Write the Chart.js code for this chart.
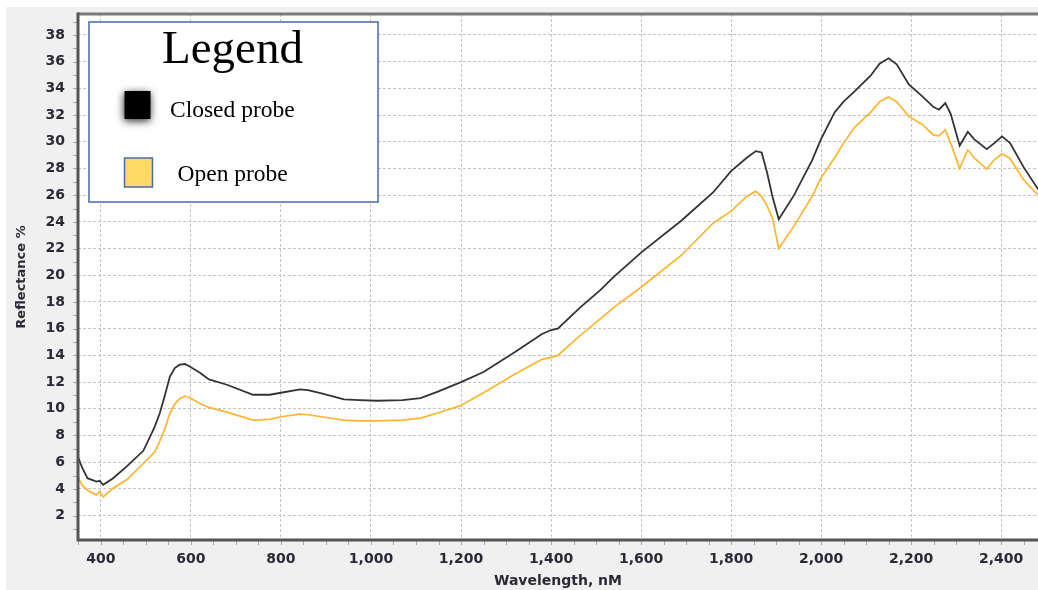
<!DOCTYPE html>
<html>
<head>
<meta charset="utf-8">
<script src="https://cdn.jsdelivr.net/npm/chart.js@4/dist/chart.umd.min.js"></script>
<style>
  html, body { margin: 0; padding: 0; background: #ffffff; }
  canvas { display: block; }
</style>
</head>
<body>
<canvas id="chart" width="1038" height="590"></canvas>
<script>
// Reflectance spectra of the two probe configurations
const wavelengths = [
  350, 358, 370, 390, 397, 405, 427, 458, 494, 509, 520, 531, 542, 553, 564, 575, 587, 598, 620, 640, 680,
  738, 775, 800, 842, 860, 890, 940, 975, 1013, 1070, 1110, 1150, 1200, 1250, 1320, 1380,
  1400, 1415, 1465, 1510, 1540, 1600, 1690, 1760, 1800, 1835, 1855, 1868, 1880, 1892, 1906,
  1940, 1980, 2000, 2030, 2050, 2075, 2110, 2130, 2150, 2168, 2195, 2225, 2250, 2262, 2276,
  2288, 2308, 2326, 2340, 2368, 2385, 2402, 2420, 2450, 2485
];
const closedProbe = [
  6.3, 5.6, 4.8, 4.55, 4.6, 4.3, 4.8, 5.7, 6.85, 7.9, 8.7, 9.7, 11.0, 12.4, 13.05, 13.3, 13.35, 13.15, 12.7, 12.2, 11.8,
  11.05, 11.05, 11.2, 11.45, 11.4, 11.15, 10.7, 10.65, 10.6, 10.65, 10.8, 11.3, 12.0, 12.75, 14.25, 15.6,
  15.9, 16.0, 17.6, 18.9, 19.9, 21.7, 24.1, 26.2, 27.8, 28.8, 29.3, 29.2, 27.7, 25.9, 24.2,
  26.0, 28.6, 30.2, 32.2, 33.0, 33.8, 34.95, 35.85, 36.25, 35.8, 34.3, 33.4, 32.6, 32.4, 32.9,
  32.1, 29.7, 30.75, 30.2, 29.45, 29.9, 30.4, 29.9, 28.1, 26.3
];
const openProbe = [
  4.8, 4.3, 3.9, 3.55, 3.8, 3.4, 4.05, 4.7, 5.9, 6.4, 6.8, 7.6, 8.5, 9.65, 10.35, 10.75, 10.95, 10.8, 10.4, 10.1, 9.75,
  9.15, 9.2, 9.4, 9.6, 9.55, 9.4, 9.15, 9.1, 9.1, 9.15, 9.3, 9.7, 10.25, 11.2, 12.6, 13.7,
  13.85, 14.0, 15.5, 16.75, 17.6, 19.1, 21.5, 23.9, 24.8, 25.9, 26.3, 25.9, 25.2, 24.3, 22.0,
  23.7, 25.9, 27.3, 28.8, 29.9, 31.1, 32.2, 33.0, 33.35, 33.0, 31.9, 31.3, 30.5, 30.45, 30.9,
  29.9, 28.0, 29.4, 28.8, 27.95, 28.65, 29.1, 28.75, 27.15, 25.9
];

const wavelengthTicks = [400, 600, 800, 1000, 1200, 1400, 1600, 1800, 2000, 2200, 2400];
const reflectanceTicks = [2, 4, 6, 8, 10, 12, 14, 16, 18, 20, 22, 24, 26, 28, 30, 32, 34, 36, 38];
const seriesNames = ['Closed probe', 'Open probe'];
const seriesColors = ['#333333', '#ffb52e'];
const legendSwatches = ['#000000', '#ffd966'];
const legendHeading = 'Legend';
const xAxisTitle = 'Wavelength, nM';
const yAxisTitle = 'Reflectance %';

const tickFont = { family: '"DejaVu Sans", Verdana, sans-serif', size: 14, weight: 'bold' };
const tickColor = '#2a2a36';

// Panel background: light grey surround, white plotting area
const backdrop = {
  id: 'backdrop',
  beforeDraw(chart) {
    const { ctx, chartArea: a, width, height } = chart;
    ctx.save();
    ctx.fillStyle = '#ffffff';
    ctx.fillRect(0, 0, width, height);
    ctx.fillStyle = '#f0f0f0';
    ctx.fillRect(6, 7, width - 6, height - 7);
    ctx.fillStyle = '#ffffff';
    ctx.fillRect(a.left, a.top, a.right - a.left, a.bottom - a.top);
    ctx.restore();
  }
};

// Axis frame with small tick marks every 50 nm and every 1 %
const frame = {
  id: 'frame',
  afterDatasetsDraw(chart) {
    const { ctx, chartArea: a, scales } = chart;
    const xs = scales.x, ys = scales.y;
    ctx.save();
    ctx.strokeStyle = '#a8a8a8';
    ctx.lineWidth = 1;
    ctx.beginPath();
    for (let w = 350; w <= xs.max; w += 50) {
      if (w < xs.min) continue;
      const px = Math.round(xs.getPixelForValue(w)) + 0.5;
      ctx.moveTo(px, a.bottom + 1);
      ctx.lineTo(px, a.bottom + 5);
    }
    for (let v = 1; v <= ys.max; v += 1) {
      if (v < ys.min) continue;
      const py = Math.round(ys.getPixelForValue(v)) + 0.5;
      ctx.moveTo(a.left - 5, py);
      ctx.lineTo(a.left - 1, py);
    }
    ctx.stroke();

    // top border
    ctx.strokeStyle = '#7a7a7a';
    ctx.lineWidth = 3;
    ctx.beginPath();
    ctx.moveTo(a.left, a.top);
    ctx.lineTo(a.right, a.top);
    ctx.stroke();
    // left and bottom axis lines
    ctx.strokeStyle = '#555555';
    ctx.beginPath();
    ctx.moveTo(a.left, a.top - 1.5);
    ctx.lineTo(a.left, a.bottom);
    ctx.lineTo(a.right, a.bottom);
    ctx.stroke();
    ctx.restore();
  }
};

// Boxed legend in the upper-left corner of the plot
const legendBox = {
  id: 'legendBox',
  afterDraw(chart) {
    const { ctx } = chart;
    const border = '#4a6aa8';
    ctx.save();
    ctx.fillStyle = '#ffffff';
    ctx.fillRect(89, 22, 289, 180);
    ctx.strokeStyle = border;
    ctx.lineWidth = 1.5;
    ctx.strokeRect(89, 22, 289, 180);

    ctx.fillStyle = '#000000';
    ctx.textBaseline = 'alphabetic';
    ctx.textAlign = 'center';
    ctx.font = '47px "Liberation Serif", "Times New Roman", serif';
    ctx.fillText(legendHeading, 232.5, 63);

    // swatch for the first series (soft-edged black square)
    ctx.save();
    ctx.shadowColor = 'rgba(0,0,0,0.85)';
    ctx.shadowBlur = 8;
    ctx.shadowOffsetX = -1;
    ctx.shadowOffsetY = 2;
    ctx.fillStyle = legendSwatches[0];
    ctx.fillRect(124.5, 91, 26, 28);
    ctx.restore();

    // swatch for the second series
    ctx.fillStyle = legendSwatches[1];
    ctx.fillRect(124.5, 158, 28, 29);
    ctx.strokeStyle = border;
    ctx.lineWidth = 1.5;
    ctx.strokeRect(124.5, 158, 28, 29);

    ctx.fillStyle = '#000000';
    ctx.textAlign = 'left';
    ctx.font = '23.5px "Liberation Serif", "Times New Roman", serif';
    ctx.fillText(chart.data.datasets[0].label, 170, 116.5);
    ctx.fillText(chart.data.datasets[1].label, 177.5, 180.5);
    ctx.restore();
  }
};

const toPoints = (values) => wavelengths.map((w, i) => ({ x: w, y: values[i] }));

new Chart(document.getElementById('chart'), {
  type: 'line',
  data: {
    datasets: [
      {
        label: seriesNames[0],
        data: toPoints(closedProbe),
        borderColor: seriesColors[0],
        borderWidth: 1.8,
        pointRadius: 0,
        tension: 0,
        fill: false
      },
      {
        label: seriesNames[1],
        data: toPoints(openProbe),
        borderColor: seriesColors[1],
        borderWidth: 1.7,
        pointRadius: 0,
        tension: 0,
        fill: false
      }
    ]
  },
  options: {
    responsive: false,
    animation: false,
    layout: { padding: { left: 0, top: 14, right: 0, bottom: 0 } },
    plugins: {
      legend: { display: false },
      tooltip: { enabled: false }
    },
    scales: {
      x: {
        type: 'linear',
        min: 349,
        max: 2482,
        afterBuildTicks(scale) {
          scale.ticks = wavelengthTicks.map(v => ({ value: v }));
        },
        afterFit(scale) {
          scale.height = 50;
          scale.paddingLeft = 0;
          scale.paddingRight = 0;
        },
        ticks: {
          font: tickFont,
          color: tickColor,
          padding: 11,
          maxRotation: 0,
          autoSkip: false,
          callback: (v) => v.toLocaleString('en-US')
        },
        grid: {
          color: '#c4c4c4',
          lineWidth: 1,
          drawTicks: false
        },
        border: { display: false, dash: [3, 2] },
        title: {
          display: true,
          text: xAxisTitle,
          font: { family: '"DejaVu Sans", Verdana, sans-serif', size: 14, weight: 'bold' },
          color: tickColor,
          padding: { top: 0, bottom: 0 }
        }
      },
      y: {
        type: 'linear',
        min: 0.17,
        max: 39.57,
        afterBuildTicks(scale) {
          scale.ticks = reflectanceTicks.map(v => ({ value: v }));
        },
        afterFit(scale) {
          scale.width = 78;
          scale.paddingTop = 0;
          scale.paddingBottom = 0;
        },
        ticks: {
          font: tickFont,
          color: tickColor,
          padding: 13,
          autoSkip: false
        },
        grid: {
          color: '#c4c4c4',
          lineWidth: 1,
          drawTicks: false
        },
        border: { display: false, dash: [3, 2] },
        title: {
          display: true,
          text: yAxisTitle,
          font: { family: '"DejaVu Sans", Verdana, sans-serif', size: 13, weight: 'bold' },
          color: tickColor,
          padding: { top: 14, bottom: 0 }
        }
      }
    }
  },
  plugins: [backdrop, frame, legendBox]
});
</script>
</body>
</html>
